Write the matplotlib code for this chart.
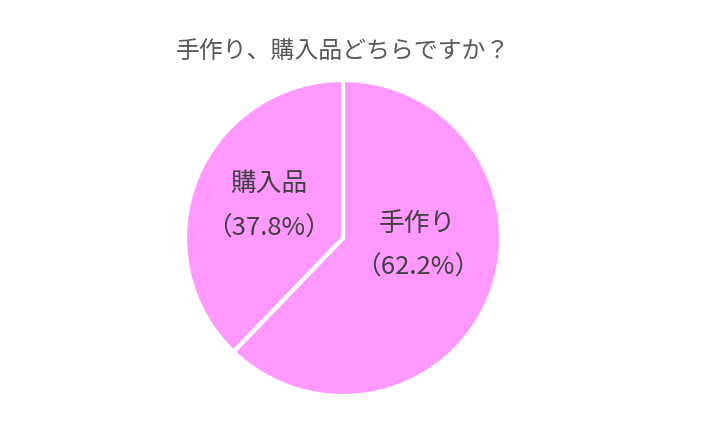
import matplotlib.pyplot as plt

plt.rcParams['font.family'] = ['Noto Sans CJK JP', 'DejaVu Sans']

labels = ['手作り', '購入品']
values = [62.2, 37.8]
colors = ['#FF99FF', '#FF99FF']
# label centres inside each slice (axes data units, radius = 1)
label_pos = [(0.47, -0.05), (-0.47, 0.20)]

fig = plt.figure(figsize=(7.13, 4.34), dpi=100)
ax = fig.add_axes([0, 0, 1, 1])

ax.pie(values, colors=colors, startangle=90, counterclock=False,
       wedgeprops=dict(edgecolor='white', linewidth=3))

ax.set_xlim(-343 / 158, (713 - 343) / 158)
ax.set_ylim(-(434 - 238) / 158, 238 / 158)
ax.set_aspect('equal')
ax.axis('off')

for name, v, (x, y) in zip(labels, values, label_pos):
    ax.text(x, y + 0.14, name, ha='center', va='center', fontsize=18.5,
            color='#404040')
    ax.text(x, y - 0.14, f'（{v:.1f}%）', ha='center', va='center',
            fontsize=18.5, color='#404040')

ax.text(0, (238 - 52) / 158, '手作り、購入品どちらですか？', ha='center',
        va='center', fontsize=17.2, color='#595959')

fig.savefig('out.png', dpi=100)
